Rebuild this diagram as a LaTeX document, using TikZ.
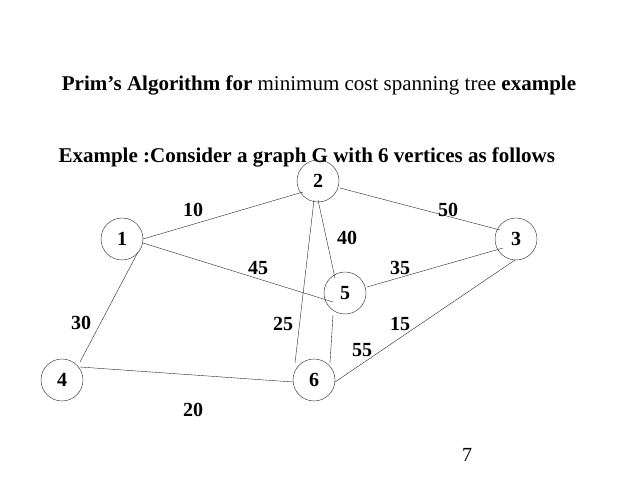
\documentclass[tikz,border=0pt]{standalone}
\usepackage{fontspec}
\setmainfont{Liberation Serif}
\begin{document}
\begin{tikzpicture}[x=1pt,y=-1pt,
  v/.style={circle,draw=black!85,thin,minimum size=42pt,inner sep=0pt,font=\fontsize{20}{22}\selectfont\bfseries},
  w/.style={font=\fontsize{20}{22}\selectfont\bfseries},
  e/.style={draw=black!85,thin}]
\useasboundingbox (0,0) rectangle (638,478);
\node[font=\fontsize{21}{24}\selectfont] (t) at (319,85) {\textbf{Prim’s Algorithm for} minimum cost spanning tree \textbf{example}};
\node[anchor=west,font=\fontsize{21}{24}\selectfont\bfseries] (ex) at (55,157) {Example :Consider a graph G with 6 vertices as follows};
\node[v] (n1) at (122,239) {1};
\node[v] (n2) at (318,181) {2};
\node[v] (n3) at (516,239) {3};
\node[v] (n4) at (62,380) {4};
\node[v] (n5) at (345,293) {5};
\node[v] (n6) at (314,380) {6};
\coordinate (a12) at (143,239); \coordinate (b12) at (303,192);
\coordinate (a23) at (340,188); \coordinate (b23) at (500,230);
\coordinate (a15) at (143,243); \coordinate (b15) at (333,302);
\coordinate (a25) at (318,200); \coordinate (b25) at (335,278);
\coordinate (a53) at (367,287); \coordinate (b53) at (503,248);
\coordinate (a26) at (314,200); \coordinate (b26) at (295,363);
\coordinate (a56) at (333,315); \coordinate (b56) at (330,363);
\coordinate (a63) at (335,382); \coordinate (b63) at (515,260);
\coordinate (a14) at (138,252); \coordinate (b14) at (80,362);
\coordinate (a46) at (80,367); \coordinate (b46) at (293,382);
\foreach \p in {12,23,15,25,53,26,56,63,14,46} \draw[e] (a\p) -- (b\p);
\node[w] (l10) at (193,210) {10};
\node[w] (l50) at (448,210) {50};
\node[w] (l40) at (347,238) {40};
\node[w] (l45) at (258,268) {45};
\node[w] (l35) at (400,268) {35};
\node[w] (l30) at (81,323) {30};
\node[w] (l25) at (283,324) {25};
\node[w] (l15) at (400,324) {15};
\node[w] (l55) at (362,350) {55};
\node[w] (l20) at (193,410) {20};
\node[font=\fontsize{20}{22}\selectfont] (p) at (467,455) {7};
\end{tikzpicture}
\end{document}
